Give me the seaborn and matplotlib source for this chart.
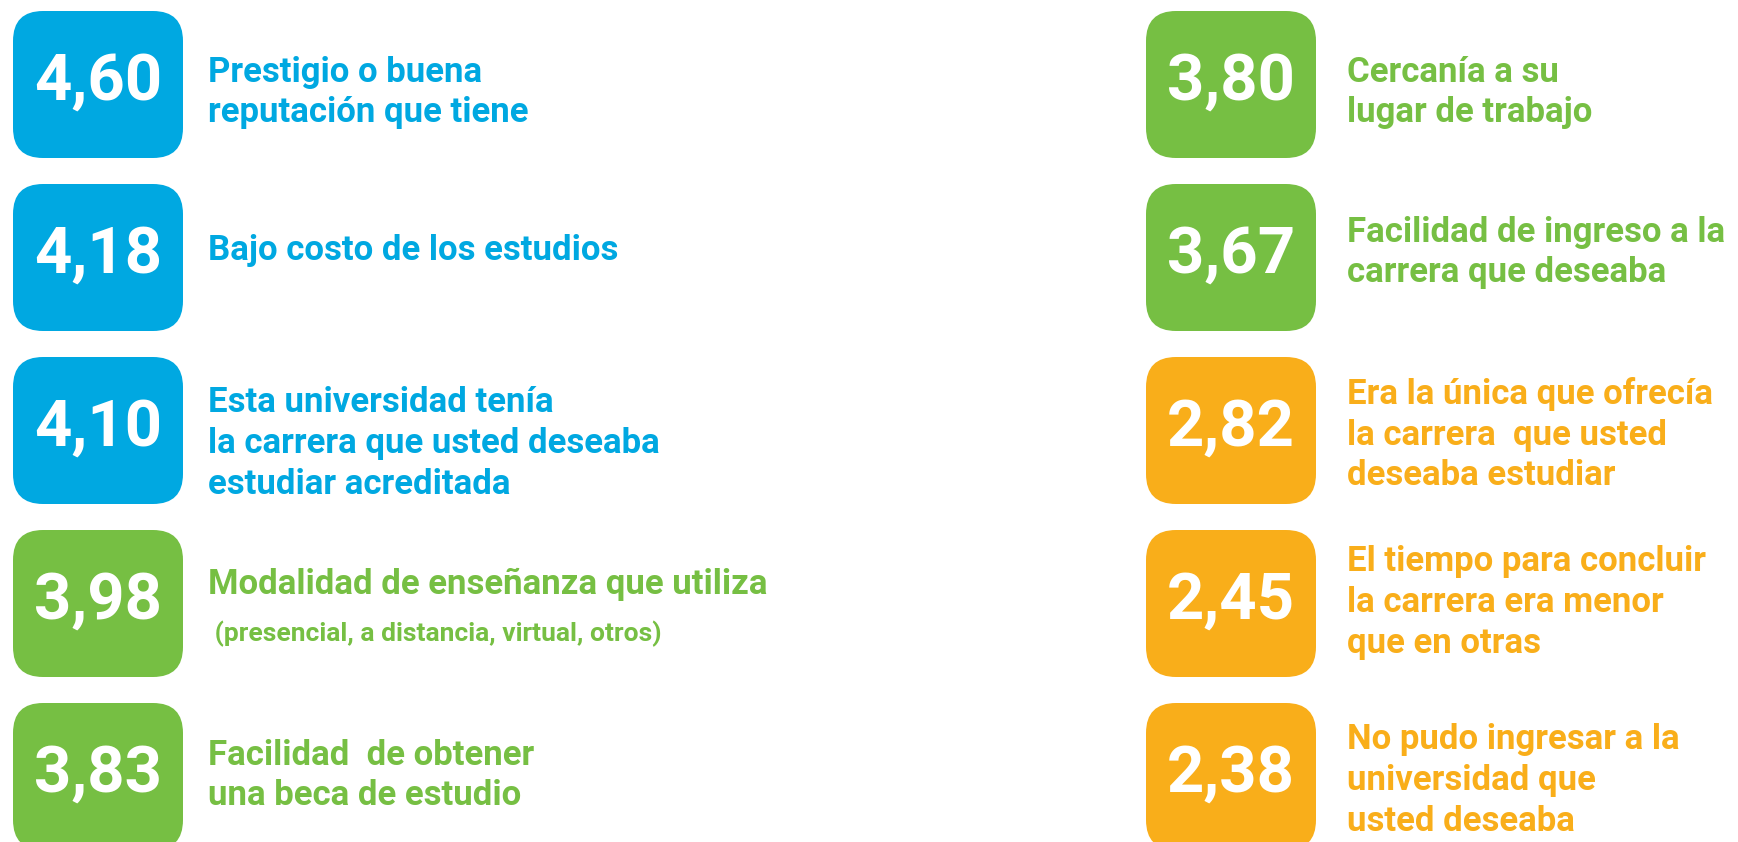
import matplotlib
matplotlib.use('Agg')
import matplotlib.pyplot as plt
from matplotlib.patches import FancyBboxPatch
import seaborn as sns

# Datos: puntaje promedio de cada motivo de elección
valores_izq = [4.60, 4.18, 4.10, 3.98, 3.83]
etiquetas_izq = [
    'Prestigio o buena\nreputación que tiene',
    'Bajo costo de los estudios',
    'Esta universidad tenía\nla carrera que usted deseaba\nestudiar acreditada',
    'Modalidad de enseñanza que utiliza',
    'Facilidad  de obtener\nuna beca de estudio',
]
notas_izq = ['', '', '', ' (presencial, a distancia, virtual, otros)', '']
grupos_izq = ['alto', 'alto', 'alto', 'medio', 'medio']

valores_der = [3.80, 3.67, 2.82, 2.45, 2.38]
etiquetas_der = [
    'Cercanía a su\nlugar de trabajo',
    'Facilidad de ingreso a la\ncarrera que deseaba',
    'Era la única que ofrecía\nla carrera  que usted\ndeseaba estudiar',
    'El tiempo para concluir\nla carrera era menor\nque en otras',
    'No pudo ingresar a la\nuniversidad que\nusted deseaba',
]
grupos_der = ['medio', 'medio', 'bajo', 'bajo', 'bajo']

colores = {'alto': '#00A8E1', 'medio': '#76BF43', 'bajo': '#F9AE1A'}

sns.set_theme(style='white')
plt.rcParams['font.family'] = ['Roboto', 'DejaVu Sans']

W, H = 1738, 842
fig = plt.figure(figsize=(W / 100, H / 100), dpi=100)
ax = fig.add_axes([0, 0, 1, 1])
ax.set_xlim(0, W)
ax.set_ylim(H, 0)
ax.axis('off')

box_w, box_h, paso, y0 = 170, 147, 173, 11


def dibujar_columna(x0, gap, valores, etiquetas, grupos, ajustes, notas=None):
    for i, (v, et, g) in enumerate(zip(valores, etiquetas, grupos)):
        top = y0 + i * paso
        c = colores[g]
        caja = FancyBboxPatch((x0 + 14, top + 14), box_w - 28, box_h - 28,
                              boxstyle='round,pad=14,rounding_size=30',
                              fc=c, ec='none', mutation_aspect=1)
        ax.add_patch(caja)
        yc = top + box_h / 2
        ax.text(x0 + box_w / 2, yc - 2, f'{v:.2f}'.replace('.', ','),
                ha='center', va='center', color='white',
                fontsize=47, fontweight='bold')
        tx = x0 + box_w + gap
        if notas is not None and notas[i]:
            ax.text(tx, yc - 19, et, ha='left', va='center', color=c,
                    fontsize=25, fontweight='bold')
            ax.text(tx, yc + 30, notas[i], ha='left', va='center', color=c,
                    fontsize=19, fontweight='bold')
        else:
            ax.text(tx, yc + 2 + ajustes[i], et, ha='left', va='center',
                    color=c, fontsize=25, fontweight='bold', linespacing=1.3)


dibujar_columna(13, 25, valores_izq, etiquetas_izq, grupos_izq,
                [6, -9, 11, 0, -3], notas_izq)
dibujar_columna(1146, 31, valores_der, etiquetas_der, grupos_der,
                [6, -7, 2, -3, 2])

fig.savefig('out.png', dpi=100, facecolor='white')
